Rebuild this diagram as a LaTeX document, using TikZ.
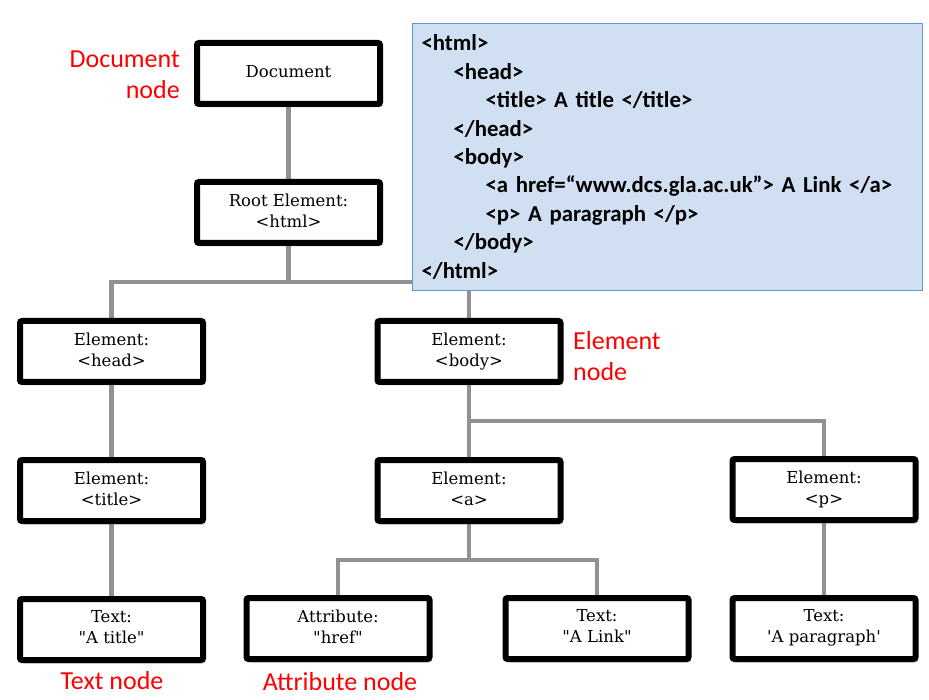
\documentclass[tikz,border=0pt]{standalone}
\usepackage{fontspec}
\newfontfamily\calibri{Carlito}
\newfontfamily\serifnode{DejaVu Serif}
\usetikzlibrary{positioning}
\usetikzlibrary{shadows}
\usetikzlibrary{backgrounds}
\definecolor{linkgray}{RGB}{145,145,145}
\definecolor{codefill}{RGB}{208,223,242}
\definecolor{codeline}{RGB}{100,150,210}

\begin{document}
\begin{tikzpicture}[x=1pt, y=-1pt, node distance = 139pt,
  dom/.style={draw, line width=6pt, rounded corners=2pt, fill=white,
    minimum width=183pt, minimum height=61pt, align=center,
    font=\serifnode\fontsize{16.5}{21}\selectfont,
    execute at begin node={\rule{0pt}{13pt}},
    execute at end node={\rule[-4.5pt]{0pt}{0pt}},
    drop shadow={opacity=0.35, shadow xshift=2.5pt, shadow yshift=-3.5pt}},
  link/.style={draw=linkgray, line width=4.5pt},
  note/.style={text=red, inner sep=0pt, font=\calibri\fontsize{26}{31}\selectfont},
  codebox/.style={draw=codeline, fill=codefill, line width=1.2pt, anchor=north west,
    minimum height=267pt, text width=492pt, inner xsep=9pt, align=left,
    font=\calibri\bfseries\fontsize{22.8}{28.4}\selectfont}]
  \useasboundingbox (0,0) rectangle (929,700);

  \node[dom] (doc) at (288.5,73.5) {Document};
  \node[dom] (root) [below of = doc] {Root Element:\\<html>};
  \node[dom] (head) at (111.5,351.5) {Element:\\<head>};
  \node[dom] (body) at (469,351.5) {Element:\\<body>};
  \node[dom] (title) [below of = head] {Element:\\<title>};
  \node[dom] (a) [below of = body] {Element:\\<a>};
  \node[dom] (p) at (824,489.5) {Element:\\<p>};
  \node[dom] (ttitle) [below of = title] {Text:\\\textquotedbl A title\textquotedbl};
  \node[dom] (href) at (338,628.5) {Attribute:\\\textquotedbl href\textquotedbl};
  \node[dom] (tlink) at (597,628.5) {Text:\\\textquotedbl A Link\textquotedbl};
  \node[dom] (tpara) [below of = p] {Text:\\\textquotesingle A paragraph\textquotesingle};

  \coordinate (j1) at (288.5,282);
  \coordinate (j2) at (469,421);
  \coordinate (j3) at (469,560);

  \begin{scope}[on background layer]
    \draw[link] (doc) -- (root);
    \draw[link] (root) -- (j1) -| (head);
    \draw[link] (j1) -| (body);
    \draw[link] (head) -- (title);
    \draw[link] (title) -- (ttitle);
    \draw[link] (body) -- (a);
    \draw[link] (j2) -| (p);
    \draw[link] (p) -- (tpara);
    \draw[link] (a) -- (j3);
    \draw[link] (href) |- (j3) -| (tlink);
  \end{scope}

  % the source of the page
  \node[codebox] (html) at (412,23) {<html>\\
    \hspace*{32pt}<head>\\
    \hspace*{64pt}<title> A title </title>\\
    \hspace*{32pt}</head>\\
    \hspace*{32pt}<body>\\
    \hspace*{64pt}<a href=“www.dcs.gla.ac.uk”> A Link </a>\\
    \hspace*{64pt}<p> A paragraph </p>\\
    \hspace*{32pt}</body>\\
    </html>};

  \node[note, align=right, anchor=east] (docnote) at (180,75) {Document\\node};
  \node[note, align=left, anchor=west] (elemnote) at (573,356) {Element\\node};
  \node[note] (textnote) at (112,681) {Text node};
  \node[note] (attrnote) at (340,682) {Attribute node};
\end{tikzpicture}
\end{document}
